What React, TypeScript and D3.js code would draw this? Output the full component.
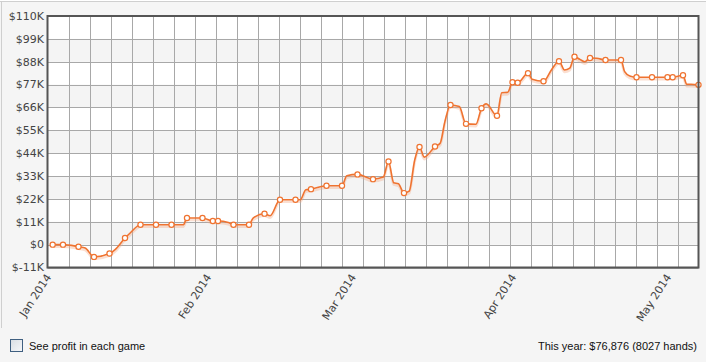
import React from "react";
import * as d3 from "d3";

// ---- data (days since 2014-01-01, cumulative profit in $) ----
const profitDays = [1, 3, 6, 7.3, 9, 12, 13.1, 15, 16, 18, 21, 24, 26.3, 27, 30, 32, 33, 35, 36, 39, 39.8, 42, 43.1, 45, 48, 48.9, 50, 51, 54, 57, 57.9, 60, 63, 65, 66, 67, 67.9, 69, 70, 71.1, 72, 72.9, 75, 76, 76.9, 78, 79.7, 81, 82.9, 84, 84.9, 87, 87.9, 89.1, 90, 91, 93, 93.8, 96, 97.6, 99, 100.1, 101.1, 102, 103, 104, 105, 106.3, 108, 111, 111.7, 112.7, 114, 117, 120, 121, 123, 123.7, 124.6, 126];
const profitValues = [0, 0, -1000, -1600, -5900, -4300, -2400, 3200, 5600, 9600, 9600, 9600, 9600, 12800, 12800, 11400, 11400, 10700, 9600, 9600, 12800, 14900, 13900, 21600, 21600, 21600, 26400, 26700, 28300, 28300, 33100, 33800, 31500, 32500, 40000, 29800, 29300, 24800, 25700, 40800, 47000, 42100, 47200, 48800, 59200, 67200, 66400, 58100, 57900, 65600, 67700, 62000, 73100, 73300, 78100, 77900, 82500, 79600, 78600, 84300, 88200, 84000, 84900, 90400, 89200, 88000, 89800, 89700, 88800, 88800, 83200, 81100, 80500, 80500, 80500, 80500, 81500, 77200, 77200, 76876];
const gameMarkers = [1, 1, 1, 0, 1, 1, 0, 1, 0, 1, 1, 1, 0, 1, 1, 1, 1, 0, 1, 1, 0, 1, 0, 1, 1, 0, 0, 1, 1, 1, 0, 1, 1, 0, 1, 0, 0, 1, 0, 0, 1, 0, 1, 0, 0, 1, 0, 1, 0, 1, 0, 1, 0, 0, 1, 1, 1, 0, 1, 0, 1, 0, 0, 1, 0, 0, 1, 0, 1, 1, 0, 0, 1, 1, 1, 1, 1, 0, 0, 1];
const yTickValues = [-11000, 0, 11000, 22000, 33000, 44000, 55000, 66000, 77000, 88000, 99000, 110000];
const monthTicks = ["2014-01-01", "2014-02-01", "2014-03-01", "2014-04-01", "2014-05-01"];
const xStart = "2014-01-01";
const xEndDays = 126;
const xGridDivisions = 31;
const footerLeft = "See profit in each game";
const footerRight = "This year: $76,876 (8027 hands)";

const W = 706, H = 362;
const plot = { left: 47.5, right: 698.5, top: 16, bottom: 267.5 };
const LINE = "#ef7330";

export default function App() {
  const start = d3.isoParse(xStart) as Date;
  const toDate = (d: number) => d3.timeHour.offset(start, Math.round(d * 24));
  const x = d3.scaleTime().domain([start, toDate(xEndDays)]).range([plot.left, plot.right]);
  const y = d3.scaleLinear().domain([-11000, 110000]).range([plot.bottom, plot.top]);
  const pts = profitDays.map((d, i) => ({ date: toDate(d), v: profitValues[i], m: gameMarkers[i] }));
  const line = d3.line<any>().x((p) => x(p.date)).y((p) => y(p.v)).curve(d3.curveMonotoneX);
  const path = line(pts) || "";
  const fmt = (v: number) => (v === 0 ? "$0" : "$" + (v / 1000) + "K");
  const gridX = d3.range(1, xGridDivisions).map((i) => plot.left + ((plot.right - plot.left) * i) / xGridDivisions);
  const monthFmt = d3.timeFormat("%b %Y");

  return (
    <div style={{ position: "fixed", left: 0, top: 0, width: W, height: H }}>
      <svg width={W} height={H} style={{ display: "block" }}>
        <rect x={0} y={0} width={W} height={H} fill="#f5f5f5" />
        <rect x={0} y={0} width={W} height={1} fill="#ffffff" />
        <line x1={0} x2={W} y1={1.5} y2={1.5} stroke="#cfcfcf" />
        <line x1={1.5} x2={1.5} y1={1.5} y2={328} stroke="#cfcfcf" />
        {/* bands */}
        {yTickValues.slice(0, -1).map((v, i) => (
          <rect key={"b" + i} x={plot.left} width={plot.right - plot.left}
            y={y(v + 11000)} height={y(v) - y(v + 11000)}
            fill={(yTickValues.length - 2 - i) % 2 === 0 ? "#ffffff" : "#f4f4f4"} />
        ))}
        {/* grid */}
        {yTickValues.map((v, i) => (
          <line key={"gy" + i} x1={plot.left} x2={plot.right} y1={Math.round(y(v)) + 0.5} y2={Math.round(y(v)) + 0.5} stroke="#a8a8a8" strokeWidth={1} />
        ))}
        {gridX.map((gx, i) => (
          <line key={"gx" + i} x1={Math.round(gx) + 0.5} x2={Math.round(gx) + 0.5} y1={plot.top} y2={plot.bottom} stroke="#a8a8a8" strokeWidth={1} />
        ))}
        {/* y labels */}
        {yTickValues.map((v, i) => (
          <text key={"yl" + i} x={44} y={y(v)} dy="0.35em" textAnchor="end" fontFamily="DejaVu Sans, Verdana, sans-serif" fontSize={11} fill="#444">{fmt(v)}</text>
        ))}
        {/* x labels */}
        {monthTicks.map((m, i) => {
          const d = d3.isoParse(m) as Date;
          const tx = x(d) + 1;
          return (
            <text key={"xl" + i} transform={`translate(${tx},${275}) rotate(-57)`} dy="0.35em" textAnchor="end" fontFamily="DejaVu Sans, Verdana, sans-serif" fontSize={11} fill="#444">{monthFmt(d)}</text>
          );
        })}
        {/* line shadow */}
        <path d={path} fill="none" stroke="#f3a27a" strokeOpacity={0.35} strokeWidth={2.5} transform="translate(0,2)" />
        <path d={path} fill="none" stroke={LINE} strokeWidth={1.6} strokeLinejoin="round" />
        {pts.filter((p) => p.m).map((p, i) => (
          <circle key={"m" + i} cx={x(p.date)} cy={y(p.v)} r={2.6} fill="#ffffff" stroke={LINE} strokeWidth={1.2} />
        ))}
        {/* plot border */}
        <rect x={plot.left} y={plot.top} width={plot.right - plot.left} height={plot.bottom - plot.top} fill="none" stroke="#555" strokeWidth={2} />
        {/* footer */}
        <defs>
          <linearGradient id="cb" x1="0" y1="0" x2="1" y2="1">
            <stop offset="0" stopColor="#d8dde3" />
            <stop offset="1" stopColor="#f6f7f9" />
          </linearGradient>
        </defs>
        <rect x={10.5} y={339.5} width={12} height={12} fill="url(#cb)" stroke="#3f5f80" strokeWidth={1} />
        <text x={29} y={349.5} fontFamily="Liberation Sans, Arial, sans-serif" fontSize={11} fill="#111">{footerLeft}</text>
        <text x={697} y={349.5} textAnchor="end" fontFamily="Liberation Sans, Arial, sans-serif" fontSize={11} fill="#111">{footerRight}</text>
      </svg>
    </div>
  );
}
